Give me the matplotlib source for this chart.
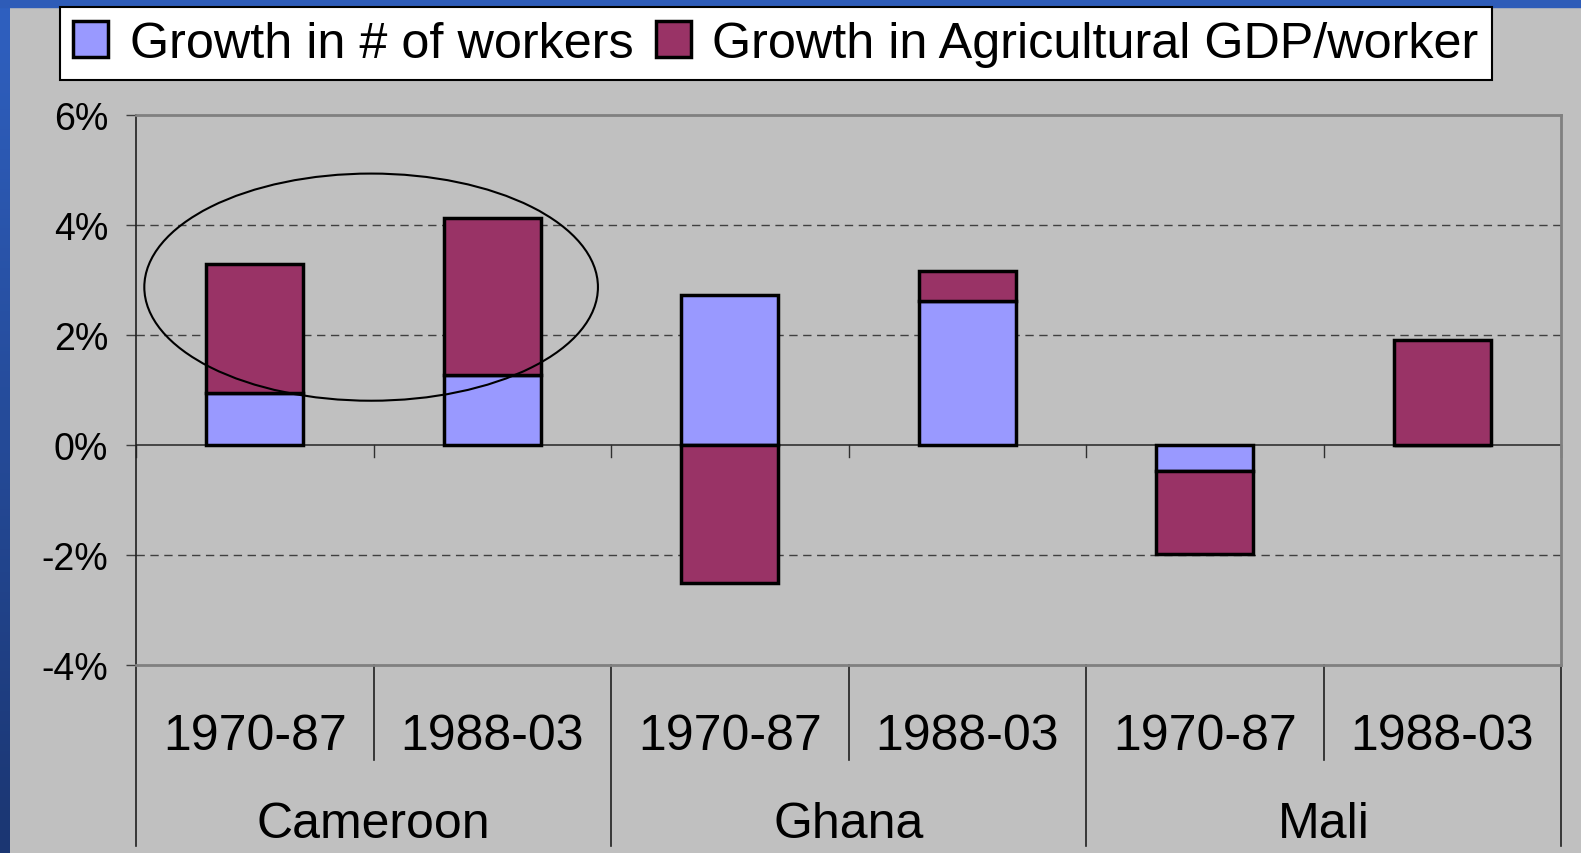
import numpy as np
import matplotlib
matplotlib.use("Agg")
from matplotlib import pyplot as plt
from matplotlib.patches import Ellipse, Rectangle
from matplotlib.ticker import FuncFormatter
from matplotlib.colors import LinearSegmentedColormap

plt.rcParams['font.family'] = ['Liberation Sans', 'DejaVu Sans']

# data (percent per year)
countries = ['Cameroon', 'Ghana', 'Mali']
periods = ['1970-87', '1988-03', '1970-87', '1988-03', '1970-87', '1988-03']
workers = [0.95, 1.27, 2.72, 2.62, -0.48, 0.0]
gdp_per_worker = [2.35, 2.86, -2.51, 0.54, -1.50, 1.91]
yticks = [-4, -2, 0, 2, 4, 6]

blue = '#9999FF'
red = '#993366'
bg = '#C0C0C0'

W, H = 1581, 854
fig = plt.figure(figsize=(W/100, H/100), dpi=100)
fig.patch.set_facecolor(bg)

# blue slide border (top + left gradient)
fig.patches.append(Rectangle((0, 1-8/H), 1, 8/H, transform=fig.transFigure,
                             color='#2E5CB8', zorder=0))
gax = fig.add_axes([0, 0, 10/W, 1 - 8/H])
grad = np.linspace(0, 1, 256).reshape(-1, 1)
cm = LinearSegmentedColormap.from_list('b', ['#2F60C0', '#1B3672'])
gax.imshow(grad, aspect='auto', cmap=cm)
gax.axis('off')

ax = fig.add_axes([136/W, 1-666/H, (1561-136)/W, 550/H])
ax.set_facecolor(bg)

x = np.arange(len(periods))
bw = 0.41
ax.bar(x, workers, bw, color=blue, edgecolor='black', linewidth=2.5, zorder=3,
       label='Growth in # of workers')
bottoms = []
for w, g in zip(workers, gdp_per_worker):
    if g >= 0:
        bottoms.append(max(w, 0))
    else:
        bottoms.append(min(w, 0))
ax.bar(x, gdp_per_worker, bw, bottom=bottoms, color=red, edgecolor='black',
       linewidth=2.5, zorder=3, label='Growth in Agricultural GDP/worker')

ax.set_xlim(-0.5, len(periods) - 0.5)
ax.set_ylim(-4, 6)
ax.set_yticks(yticks)
ax.yaxis.set_major_formatter(FuncFormatter(lambda v, p: '{:.0f}%'.format(v)))
ax.tick_params(axis='y', labelsize=27, length=7, width=1, pad=13, color='#404040')
ax.set_xticks([])

for v in yticks:
    if v in (-4, 0, 6):
        continue
    ax.axhline(v, color='#404040', lw=1, ls=(0, (6, 4)), zorder=1)
ax.axhline(0, color='#303030', lw=1.2, zorder=2)

for s in ['top', 'right', 'bottom']:
    ax.spines[s].set_color('#808080')
    ax.spines[s].set_linewidth(2)
ax.spines['left'].set_color('#202020')
ax.spines['left'].set_linewidth(1.2)

# category separators below plot area
tr = ax.get_xaxis_transform()
for b in np.arange(-0.5, len(periods)):
    # small ticks at zero line
    ax.plot([b, b], [0, -0.22], color='#303030', lw=1, clip_on=False, zorder=2)
    group_edge = (b + 0.5) % 2 == 0
    ymin = -0.329 if group_edge else -0.173
    ax.plot([b, b], [0, ymin], transform=tr, color='#202020', lw=1.2, clip_on=False)

for i, p in enumerate(periods):
    ax.text(i, -0.13, p, transform=tr, ha='center', va='center', fontsize=36)
for j, c in enumerate(countries):
    ax.text(2*j + 0.5, -0.29, c, transform=tr, ha='center', va='center', fontsize=36)

# highlight ellipse around Cameroon
ax.add_patch(Ellipse((0.49, 2.87), 1.91, 4.13, fill=False, edgecolor='black',
                     lw=1.5, zorder=4))

leg = fig.legend(loc='upper left', bbox_to_anchor=(59.5/W, 1-8/H), ncol=2,
                 fontsize=36.3, frameon=True, fancybox=False, shadow=False,
                 framealpha=1, handlelength=0.7, handleheight=0.7, handletextpad=0.42,
                 columnspacing=0.45, borderpad=0.27, borderaxespad=0)
leg.get_frame().set_edgecolor('black')
leg.get_frame().set_linewidth(1.5)
leg.get_frame().set_facecolor('white')
for h in leg.legend_handles:
    h.set_linewidth(2.5)

fig.savefig('out.png', dpi=100, facecolor=fig.get_facecolor())
